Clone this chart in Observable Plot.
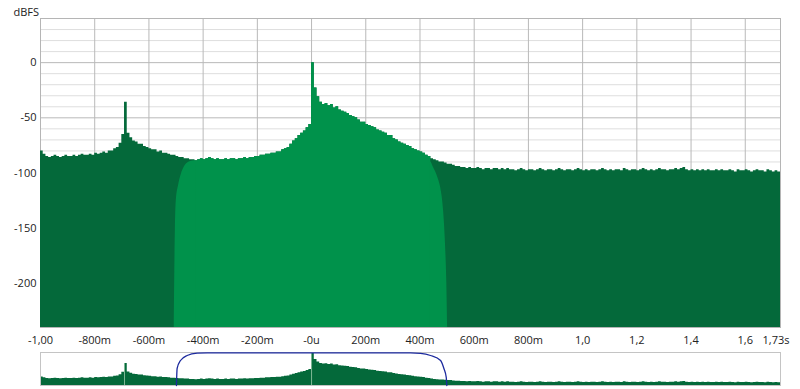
<!DOCTYPE html>
<html><head><meta charset="utf-8">
<script src="https://cdn.jsdelivr.net/npm/d3@7"></script>
<script src="https://cdn.jsdelivr.net/npm/@observablehq/plot@0.6"></script>
<style>
body{margin:0;background:#fff;font-family:"Open Sans",sans-serif;}
#wrap{position:relative;width:800px;height:389px;overflow:hidden;}
#main{position:absolute;left:0;top:0;}
#ov1,#ov2{position:absolute;left:0;top:348px;}
svg{overflow:visible;}
</style></head><body>
<div id="wrap"><div id="main"></div><div id="ov1"></div><div id="ov2"></div></div>
<script>
// Sampling grid of the spectrum (seconds)
const tStart = -1.0, tStep = 0.01;
// Full spectrum level (dBFS), one value per 10 ms bin
const darkDb = [
 -80,-83,-85,
 -86,-85,-84,-85,-86,-85,-84,-85,-85,-84,-85,-84,-83,-84,-84,-83,-84,
 -82,-83,-82,-81,-82,-80,-80,-78,-77,-73,
 -65,-36,-64,-68,-71,-72,-74,-74,-76,-77,
 -78,-79,-79,-81,-80,-82,-82,-83,-84,-84,
 -85,-86,-86,-87,-87,-88,
 -88,-89,-88,-87,-88,-87,-86,-87,-88,-87,-88,-88,-87,-88,-87,
 -87,-88,-87,-87,-86,-87,-86,-86,-85,
 -85,-84,-84,-83,-83,-82,-82,-81,-81,-79,
 -78,-77,-74,-71,-69,-66,-64,-62,-59,-56,
 0,-23,-31,-36,-38,-37,-39,-38,-41,-40,
 -43,-44,-45,-46,-48,-49,-50,-52,-54,-54,
 -56,-57,-58,-59,-61,-62,-63,-64,-66,-66,
 -69,-70,-72,-73,-74,-75,-76,-78,-79,-80,
 -81,-82,-84,-85,-87,-88,-89,-90,-90,-91,
 -92,-92,-93,-94,-94,-95,
 -95,-96,-95,-96,-96,-95,-96,-97,-96,-96,-97,-96,-96,-97,-96,
 -97,-96,-97,-97,-98,-97,-96,-97,-98,-97,
 -97,-98,-97,-96,-97,-98,-97,-97,-98,-97,
 -96,-97,-98,-97,-97,-98,-97,-96,-97,-98,
 -97,-98,-97,-97,-98,-97,-96,-97,-98,-97,
 -98,-97,-97,-98,-96,-97,-98,-97,-97,-98,
 -97,-96,-97,-98,-97,-98,-97,-96,-97,-97,
 -98,-97,-97,-96,-97,-96,-95,-97,-98,-97,
 -98,-97,-98,-97,-98,-97,-98,-98,-97,-98,
 -97,-98,-98,-97,-98,-99,-97,-98,-98,-97,
 -98,-99,-98,-97,-98,-98,-99,-97,-98,-99,
 -98,-99,-99
];
// Windowed spectrum: shares the full-spectrum bins between these indices
const lightMidFirst = 57, lightMidLast = 144;
// Windowed spectrum: tapered edges (time s, dBFS)
const lightLeftT  = [-0.5065,-0.5045,-0.5025,-0.499,-0.4905,-0.4815,-0.4655,-0.4465,-0.43,-0.4275];
const lightLeftDb = [-240,-188,-152,-125,-111,-102,-93,-89.5,-89,-89];
const lightRightT  = [0.4375,0.44,0.448,0.458,0.467,0.476,0.487,0.494,0.499,0.502];
const lightRightDb = [-90,-90,-94,-99,-105,-113,-134,-164,-200,-240];
// Selection window drawn in the overview (time s, level 0..1)
const winT     = [-0.4985,-0.496,-0.4835,-0.459,-0.422,-0.385,0.365,0.402,0.439,0.476,0.4882,0.497,0.499];
const winLevel = [0,0.515,0.758,0.909,0.979,0.99,0.99,0.975,0.909,0.758,0.515,0.24,0];
// Spike markers in overview
const spikeT  = [-0.69, 0.0];
const spikeDb = [-36, 0];
// Axes
const xTickValues = [-1,-0.8,-0.6,-0.4,-0.2,0,0.2,0.4,0.6,0.8,1.0,1.2,1.4,1.6];
const xTickLabels = ["-1,00","-800m","-600m","-400m","-200m","-0u","200m","400m","600m","800m","1,0","1,2","1,4","1,6"];
const xEndTick = 1.73, xEndLabel = "1,73s";
const xGrid = [-0.8,-0.6,-0.4,-0.2,0,0.2,0.4,0.6,0.8,1.0,1.2,1.4,1.6];
const yTickValues = [-200,-150,-100,-50,0];
const yMinorGrid = [-230,-220,-210,-190,-180,-170,-160,-140,-130,-120,-110,-90,-80,-70,-60,-40,-30,-20,-10,10,20,30];
const yMajorGrid = [-200,-150,-100,-50,0];
const yDomain = [-240, 40];
const xDomain = [-1, 1.73];
const ovYDomain = [-108, 0];

const DARK = "#04693a", LIGHT = "#00924b";

const dark = darkDb.map((v, i) => ({t: tStart + i * tStep, db: v}));
const lightMid = dark.slice(lightMidFirst, lightMidLast + 1);
const lightLeft = lightLeftT.map((t, i) => ({t, db: lightLeftDb[i]}));
const lightRight = lightRightT.map((t, i) => ({t, db: lightRightDb[i]}));
const win = winT.map((t, i) => ({t, w: winLevel[i]}));
const spikes = spikeT.map((t, i) => ({t, db: spikeDb[i]}));
const labelMap = new Map(xTickValues.map((v, i) => [v, xTickLabels[i]]));

const style = {fontFamily: "'Open Sans', sans-serif", fontSize: "11px", color: "#222", background: "transparent"};

const main = Plot.plot({
  width: 800, height: 348,
  marginTop: 18, marginLeft: 40, marginRight: 20, marginBottom: 21,
  style,
  x: {domain: xDomain, label: null},
  y: {domain: yDomain, label: null},
  marks: [
    Plot.ruleY(yMinorGrid, {stroke: "#dedede", strokeWidth: 1}),
    Plot.ruleY(yMajorGrid, {stroke: "#b9b9b9", strokeWidth: 1}),
    Plot.ruleX(xGrid, {stroke: "#b9b9b9", strokeWidth: 1}),
    Plot.frame({stroke: "#b5b5b5"}),
    Plot.areaY(dark, {x: "t", y1: yDomain[0], y2: "db", curve: "step-after", fill: DARK}),
    Plot.areaY(lightMid, {x: "t", y1: yDomain[0], y2: "db", curve: "step-after", fill: LIGHT}),
    Plot.areaY(lightLeft, {x: "t", y1: yDomain[0], y2: "db", curve: "monotone-x", fill: LIGHT}),
    Plot.areaY(lightRight, {x: "t", y1: yDomain[0], y2: "db", curve: "monotone-x", fill: LIGHT}),
    Plot.axisX({ticks: xTickValues, tickFormat: d => labelMap.get(d), tickSize: 0, tickPadding: 9, label: null, fill: "#222"}),
    Plot.axisX({ticks: [xEndTick], tickFormat: () => xEndLabel, tickSize: 0, tickPadding: 9, label: null, textAnchor: "end", dx: 9, fill: "#222"}),
    Plot.axisY({ticks: yTickValues, tickFormat: d => String(d), tickSize: 0, tickPadding: 4, label: null, fill: "#222"}),
    Plot.text(["dBFS"], {text: d => d, frameAnchor: "top-left", dx: -27, dy: -10, textAnchor: "start", fill: "#222"})
  ]
});
document.getElementById("main").appendChild(main);

const ov1 = Plot.plot({
  width: 800, height: 41,
  marginTop: 4, marginBottom: 4, marginLeft: 40, marginRight: 20,
  style,
  x: {domain: xDomain, axis: null},
  y: {domain: ovYDomain, axis: null},
  marks: [
    Plot.areaY(dark, {x: "t", y1: ovYDomain[0], y2: "db", curve: "step-after", fill: DARK, clip: true}),
    Plot.ruleX(spikes, {x: "t", y1: ovYDomain[0], y2: "db", stroke: "#7fb896", strokeWidth: 1}),
    Plot.frame({stroke: "#c4c4c4"})
  ]
});
document.getElementById("ov1").appendChild(ov1);

const ov2 = Plot.plot({
  width: 800, height: 41,
  marginTop: 4, marginBottom: 4, marginLeft: 40, marginRight: 20,
  style,
  x: {domain: xDomain, axis: null},
  y: {domain: [0, 1], axis: null},
  marks: [
    Plot.line(win, {x: "t", y: "w", curve: "monotone-x", stroke: "#1c2a9e", strokeWidth: 1.3})
  ]
});
document.getElementById("ov2").appendChild(ov2);
</script>
</body></html>
